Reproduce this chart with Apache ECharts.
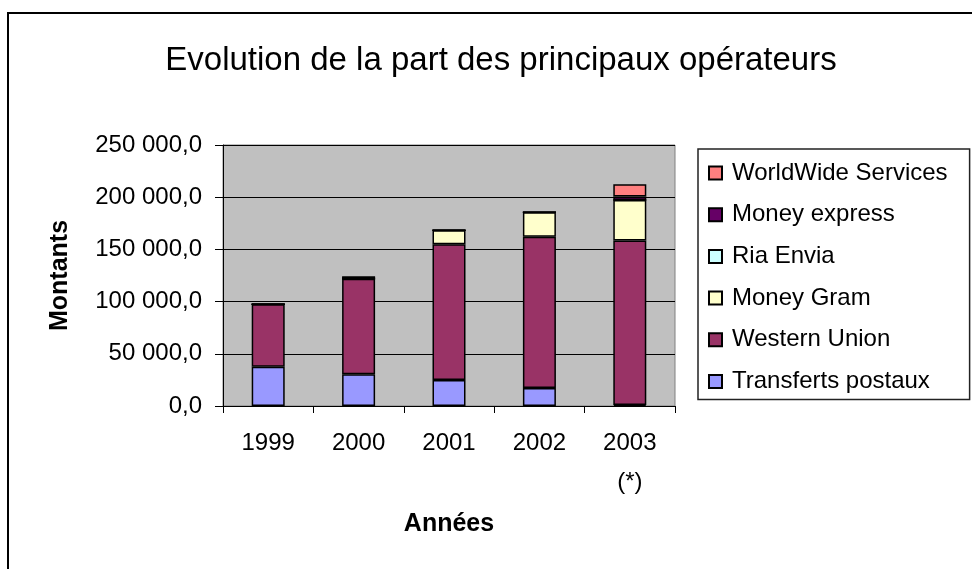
<!DOCTYPE html>
<html lang="fr">
<head>
    <meta charset="UTF-8">
    <title>Evolution de la part des principaux opérateurs</title>
    <script src="https://cdn.jsdelivr.net/npm/echarts@6/dist/echarts.min.js"></script>
</head>
<style>
    html,body{
        margin:0;
        padding:0;
        background:#fff;
    }
    #chart{
        width:972px;
        height:569px;
    }
</style>
<body>
    <div id="chart"></div>
    <script>
        // données
        var annees=['1999','2000','2001','2002','2003\n(*)'];
        var transfertsPostaux=[37600,30300,24900,17200,1000];
        var westernUnion=[59800,91700,130000,145000,157500];
        var moneyGram=[0,0,13400,23300,38800];
        var riaEnvia=[0,0,0,0,0];
        var moneyExpress=[0,1500,0,0,3400];
        var worldWide=[0,0,0,0,11700];
        var yTicks=[0,50000,100000,150000,200000,250000];

        var police='"Liberation Sans", Arial, sans-serif';

        function fmt(v){
            var s=String(Math.round(v));
            s=s.replace(/\B(?=(\d{3})+(?!\d))/g,' ');
            return s+',0';
        }

        function serie(nom,data,couleur){
            return {
                name:nom,
                type:'bar',
                stack:'total',
                barWidth:33,
                data:data,
                itemStyle:{
                    color:couleur,
                    borderColor:'#000',
                    borderWidth:1.5
                },
                emphasis:{disabled:true}
            };
        }

        var chart=echarts.init(document.getElementById('chart'));
        var option={
            animation:false,
            backgroundColor:'#fff',
            title:{
                text:'Evolution de la part des principaux opérateurs',
                left:496,
                top:39,
                textAlign:'center',
                textStyle:{
                    fontFamily:police,
                    fontSize:33,
                    fontWeight:'normal',
                    color:'#000'
                }
            },
            graphic:[{
                type:'rect',
                shape:{x:8,y:13,width:1000,height:600},
                style:{fill:'none',stroke:'#000',lineWidth:2},
                silent:true
            }],
            legend:{
                orient:'vertical',
                left:698,
                top:149,
                icon:'rect',
                itemWidth:13,
                itemHeight:13,
                itemGap:17.7,
                padding:[12,22,6,10],
                backgroundColor:'#fff',
                borderColor:'#222',
                borderWidth:1.5,
                borderRadius:0,
                textStyle:{
                    fontFamily:police,
                    fontSize:24,
                    color:'#000',
                    padding:[0,0,0,5]
                },
                data:['WorldWide Services','Money express','Ria Envia','Money Gram','Western Union','Transferts postaux']
            },
            grid:{
                left:223,
                top:145,
                width:452,
                height:261,
                show:true,
                backgroundColor:'#C0C0C0',
                borderColor:'#808080',
                borderWidth:1
            },
            xAxis:{
                type:'category',
                data:annees,
                name:'Années',
                nameLocation:'middle',
                nameGap:106,
                nameTextStyle:{
                    fontFamily:police,
                    fontSize:25,
                    fontWeight:'bold',
                    color:'#000'
                },
                axisLine:{lineStyle:{color:'#000',width:1}},
                axisTick:{show:true,length:7,lineStyle:{color:'#000'}},
                axisLabel:{
                    fontFamily:police,
                    fontSize:24,
                    color:'#000',
                    margin:18,
                    lineHeight:39
                }
            },
            yAxis:{
                type:'value',
                min:yTicks[0],
                max:yTicks[yTicks.length-1],
                interval:50000,
                name:'Montants',
                nameLocation:'middle',
                nameRotate:90,
                nameGap:150,
                nameTextStyle:{
                    fontFamily:police,
                    fontSize:25,
                    fontWeight:'bold',
                    color:'#000'
                },
                axisLine:{show:true,lineStyle:{color:'#000',width:1}},
                axisTick:{show:true,length:8,lineStyle:{color:'#000'}},
                splitLine:{show:true,lineStyle:{color:'#000',width:1}},
                axisLabel:{
                    fontFamily:police,
                    fontSize:24,
                    color:'#000',
                    margin:21,
                    formatter:fmt
                }
            },
            series:[
                serie('Transferts postaux',transfertsPostaux,'#9999FF'),
                serie('Western Union',westernUnion,'#993366'),
                serie('Money Gram',moneyGram,'#FFFFCC'),
                serie('Ria Envia',riaEnvia,'#CCFFFF'),
                serie('Money express',moneyExpress,'#660066'),
                serie('WorldWide Services',worldWide,'#FF8080')
            ]
        };
        chart.setOption(option);
    </script>
</body>
</html>
